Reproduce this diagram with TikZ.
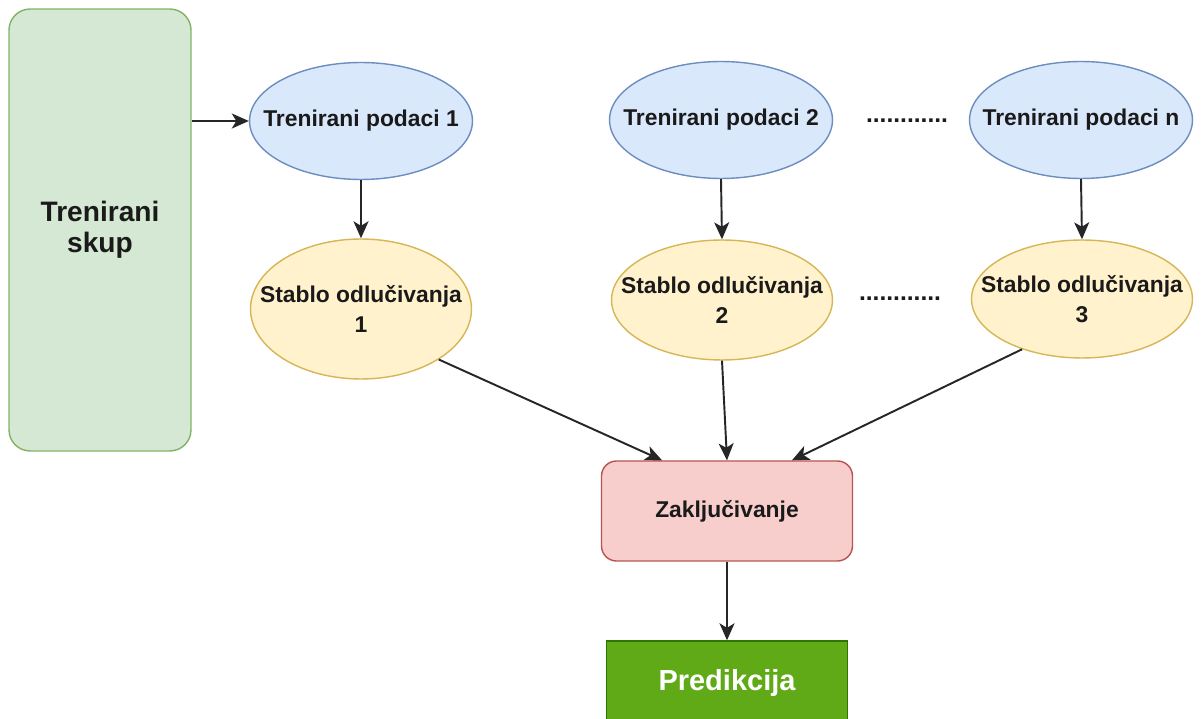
\documentclass[tikz,border=0pt]{standalone}
\usepackage{fontspec}
\setmainfont{Liberation Sans}
\usetikzlibrary{shapes.geometric,arrows.meta}
\definecolor{gfill}{HTML}{D5E8D4}
\definecolor{gline}{HTML}{82B366}
\definecolor{bfill}{HTML}{DAE8FC}
\definecolor{bline}{HTML}{6C8EBF}
\definecolor{yfill}{HTML}{FFF2CC}
\definecolor{yline}{HTML}{D6B656}
\definecolor{rfill}{HTML}{F8CECC}
\definecolor{rline}{HTML}{B85450}
\definecolor{pfill}{HTML}{60A917}
\definecolor{pline}{HTML}{2D7600}
\definecolor{txt}{HTML}{1A1A1A}
\tikzset{
  x=0.02cm, y=-0.02cm,
  lbl/.style={font=\fontsize{13}{17}\selectfont\bfseries, text=txt, align=center},
  blueell/.style={ellipse, draw=bline, fill=bfill, line width=0.8pt, inner sep=0pt,
    minimum width=4.46cm, minimum height=2.34cm},
  yellell/.style={ellipse, draw=yline, fill=yfill, line width=0.8pt, inner sep=0pt,
    minimum width=4.42cm},
  conn/.style={draw=black!85, line width=1.1pt, -{Stealth[length=0.34cm, width=0.3cm, inset=0.09cm]}},
  dotstxt/.style={font=\fontsize{14}{17}\selectfont\bfseries, text=txt}
}
\begin{document}
\begin{tikzpicture}
\useasboundingbox (0,0) rectangle (1201,719);
\clip (0,0) rectangle (1201,719);
\fill[white] (0,0) rectangle (1201,719);

% left training set
\node[rectangle, rounded corners=0.42cm, draw=gline, fill=gfill, line width=0.8pt,
  minimum width=3.64cm, minimum height=8.84cm, inner sep=0pt,
  font=\fontsize{16}{17.5}\selectfont\bfseries, text=txt, align=center] (skup) at (100,230) {Trenirani\\skup};

% data subsets
\node[blueell, label={[lbl]center:Trenirani podaci 1}] (p1) at (361,121) {};
\node[blueell, label={[lbl]center:Trenirani podaci 2}] (p2) at (721,120) {};
\node[blueell, label={[lbl]center:Trenirani podaci n}] (pn) at (1081,120) {};

% decision trees
\node[yellell, minimum height=2.8cm, label={[lbl]center:Stablo odlučivanja\\1}] (s1) at (361,309) {};
\node[yellell, minimum height=2.4cm, label={[lbl]center:Stablo odlučivanja\\2}] (s2) at (722,300) {};
\node[yellell, minimum height=2.36cm, label={[lbl]center:Stablo odlučivanja\\3}] (s3) at (1082,299) {};

% dots
\node[dotstxt] (d1) at (907,121) {............};
\node[dotstxt] (d2) at (900,299) {............};

% conclusion
\node[rectangle, rounded corners=0.3cm, draw=rline, fill=rfill, line width=0.8pt,
  minimum width=5.02cm, minimum height=2.0cm, inner sep=0pt, lbl] (zak) at (727,511) {Zaključivanje};

% prediction
\node[rectangle, draw=pline, fill=pfill, line width=0.8pt,
  minimum width=4.82cm, minimum height=1.68cm, inner sep=0pt] (pred) at (727,683) {};
\node[font=\fontsize{16.5}{18}\selectfont\bfseries, text=white] (predt) at (727,683) {Predikcija};

% connectors
\draw[conn] (skup.east |- p1.west) -- (p1.west);
\draw[conn] (p1.south) -- (s1.north);
\draw[conn] (p2.south) -- (s2.north);
\draw[conn] (pn.south) -- (s3.north);
\draw[conn] (s1.-33) -- ([xshift=-1.3cm]zak.north);
\draw[conn] (s2.south) -- (zak.north);
\draw[conn] (s3.-140) -- ([xshift=1.3cm]zak.north);
\draw[conn] (zak.south) -- (pred.north);
\end{tikzpicture}
\end{document}
